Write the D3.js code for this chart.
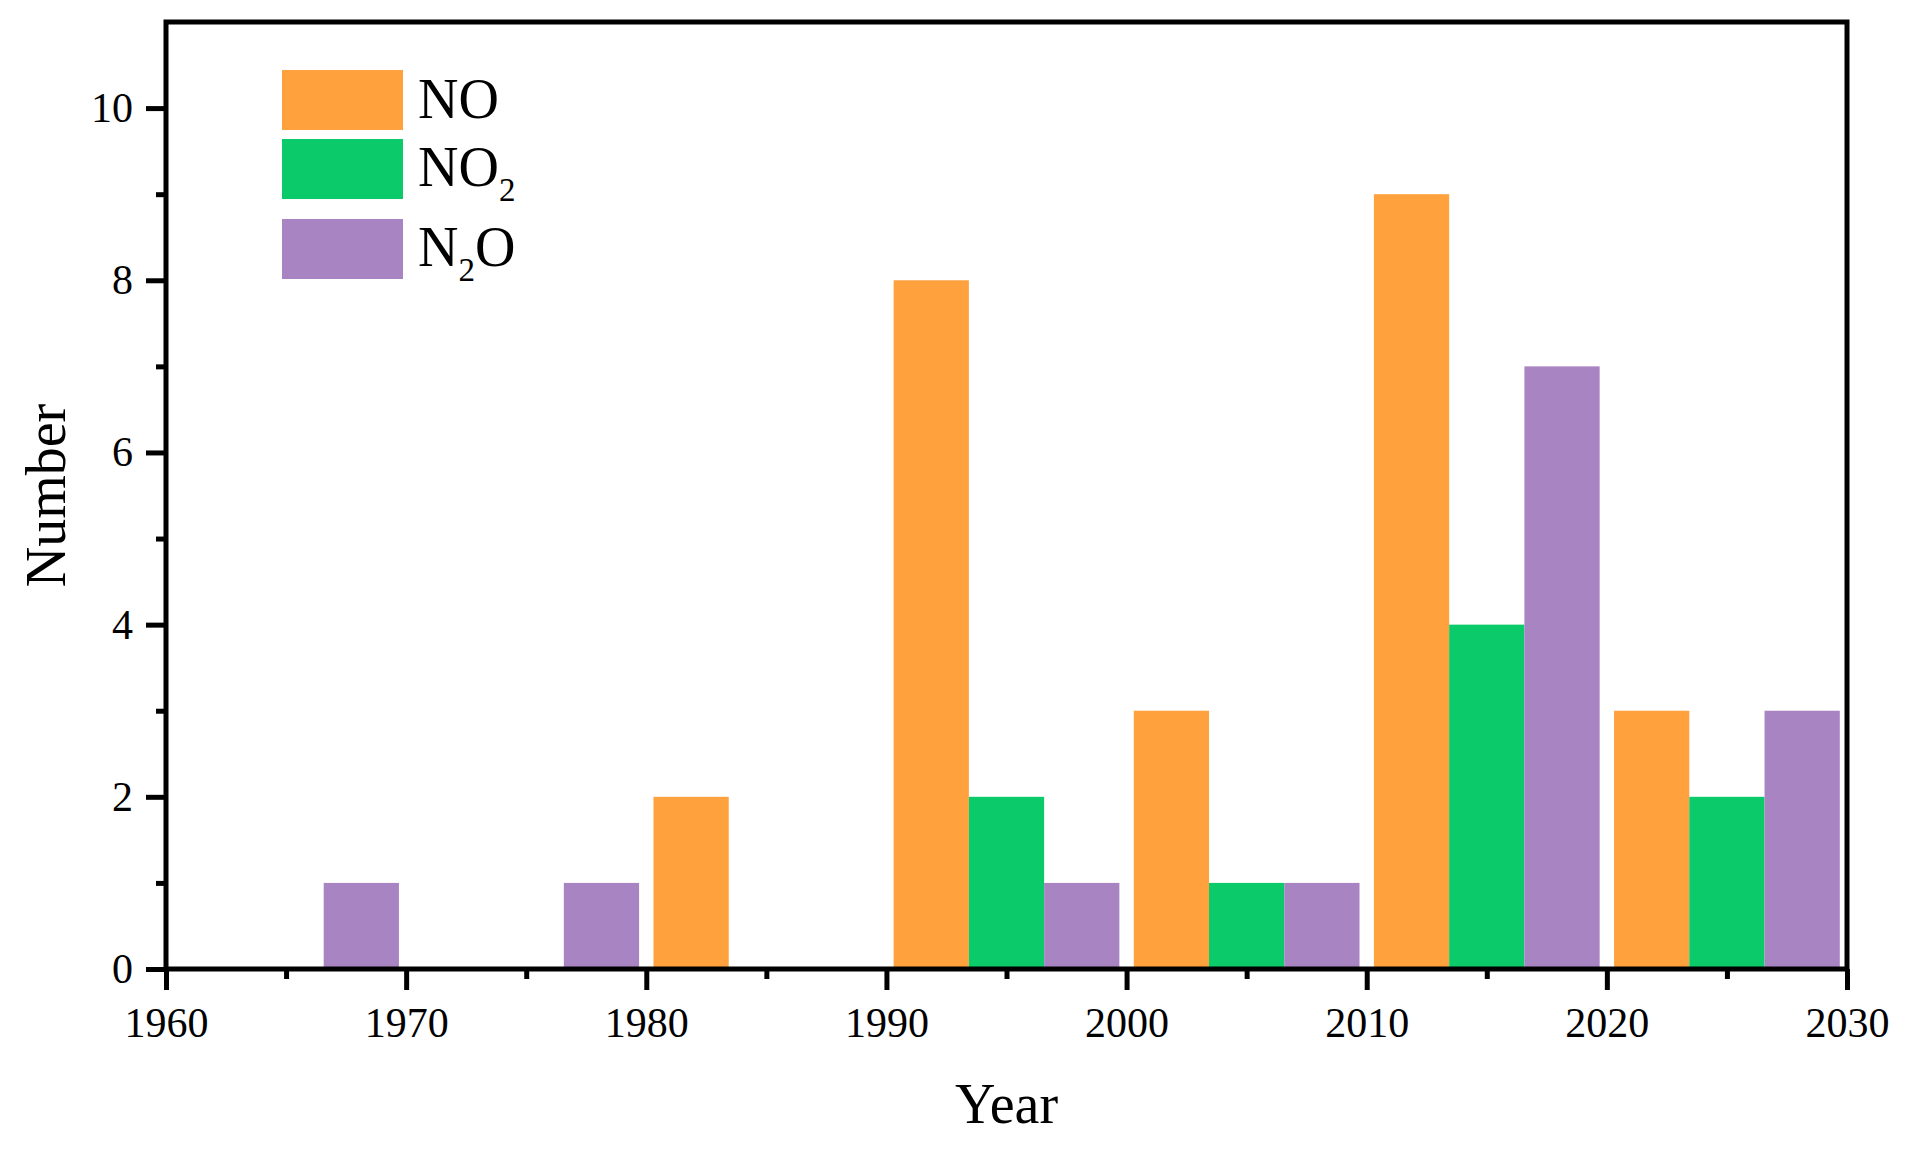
<!DOCTYPE html>
<html>
<head>
<meta charset="utf-8">
<script src="https://cdn.jsdelivr.net/npm/d3@7"></script>
<style>
  html, body { margin: 0; padding: 0; background: #fff; overflow: hidden; }
  svg { display: block; font-family: "Liberation Serif", "Times New Roman", serif; }
</style>
</head>
<body>
<div id="chart"></div>
<script>
// data
const decades = [1960, 1970, 1980, 1990, 2000, 2010, 2020];
const noValues = [0, 0, 2, 8, 3, 9, 3];
const no2Values = [0, 0, 0, 2, 1, 4, 2];
const n2oValues = [1, 1, 0, 1, 1, 7, 3];

const seriesNames = [
  [{ t: "NO" }],
  [{ t: "NO" }, { sub: "2" }],
  [{ t: "N" }, { sub: "2" }, { t: "O" }],
];
const seriesColors = ["#FFA23D", "#0BCA6A", "#A984C3"];
const seriesValues = [noValues, no2Values, n2oValues];

const xMajorTicks = [1960, 1970, 1980, 1990, 2000, 2010, 2020, 2030];
const xMinorTicks = [1965, 1975, 1985, 1995, 2005, 2015, 2025];
const yMajorTicks = [0, 2, 4, 6, 8, 10];
const yMinorTicks = [1, 3, 5, 7, 9];

const width = 1917;
const height = 1150;
const margin = { top: 22, right: 70, bottom: 181, left: 166 };
const innerWidth = width - margin.left - margin.right;
const innerHeight = height - margin.top - margin.bottom;

const x = d3.scaleLinear([1960, 2030], [0, innerWidth]);
const y = d3.scaleLinear([0, 11], [innerHeight, 0]);

const svg = d3.select("#chart")
  .append("svg")
  .attr("width", width)
  .attr("height", height);

const g = svg.append("g")
  .attr("transform", `translate(${margin.left},${margin.top})`);

// bars: three per decade, a small gap at each side of the group
const groupPad = 0.3;
const barYears = (10 - 2 * groupPad) / 3;

seriesValues.forEach((values, s) => {
  g.append("g")
    .selectAll("rect")
    .data(decades.map((d, i) => ({ decade: d, value: values[i] })))
    .join("rect")
    .attr("x", (d) => x(d.decade + groupPad + s * barYears))
    .attr("width", (d) => x(d.decade + groupPad + (s + 1) * barYears) - x(d.decade + groupPad + s * barYears))
    .attr("y", (d) => y(d.value))
    .attr("height", (d) => y(0) - y(d.value))
    .attr("fill", seriesColors[s]);
});

// axes
const tickFont = 42;

g.append("g")
  .attr("transform", `translate(0,${innerHeight})`)
  .call(d3.axisBottom(x).tickValues(xMajorTicks).tickFormat(d3.format("d"))
    .tickSize(21).tickSizeOuter(0).tickPadding(17));

g.append("g")
  .attr("class", "minor")
  .attr("transform", `translate(0,${innerHeight})`)
  .call(d3.axisBottom(x).tickValues(xMinorTicks).tickSize(10).tickSizeOuter(0));

g.append("g")
  .call(d3.axisLeft(y).tickValues(yMajorTicks).tickSize(20).tickSizeOuter(0).tickPadding(13));

g.append("g")
  .attr("class", "minor")
  .call(d3.axisLeft(y).tickValues(yMinorTicks).tickSize(10).tickSizeOuter(0));

g.selectAll(".minor .tick text").remove();
g.selectAll(".domain").remove();
g.selectAll(".tick line").attr("stroke", "#000").attr("stroke-width", 5);
g.selectAll(".tick text")
  .attr("font-family", "Liberation Serif, Times New Roman, serif")
  .attr("font-size", tickFont)
  .attr("fill", "#000");

// frame
g.append("rect")
  .attr("x", 0)
  .attr("y", 0)
  .attr("width", innerWidth)
  .attr("height", innerHeight)
  .attr("fill", "none")
  .attr("stroke", "#000")
  .attr("stroke-width", 5);

// axis titles
svg.append("text")
  .attr("x", margin.left + innerWidth / 2)
  .attr("y", 1123)
  .attr("text-anchor", "middle")
  .attr("font-size", 56)
  .text("Year");

svg.append("text")
  .attr("transform", `translate(65,${margin.top + innerHeight / 2}) rotate(-90)`)
  .attr("text-anchor", "middle")
  .attr("font-size", 56)
  .text("Number");

// legend
const legendX = 282;
const legendTops = [70, 139, 219];
const legendBaselines = [118, 186, 266];

seriesNames.forEach((parts, s) => {
  svg.append("rect")
    .attr("x", legendX)
    .attr("y", legendTops[s])
    .attr("width", 121)
    .attr("height", 60)
    .attr("fill", seriesColors[s]);

  const label = svg.append("text")
    .attr("x", legendX + 136)
    .attr("y", legendBaselines[s])
    .attr("font-size", 56);

  parts.forEach((p, k) => {
    if (p.sub) {
      label.append("tspan").attr("font-size", 33).attr("dy", 15).text(p.sub);
    } else {
      label.append("tspan").attr("dy", k > 0 ? -15 : 0).text(p.t);
    }
  });
});
</script>
</body>
</html>
